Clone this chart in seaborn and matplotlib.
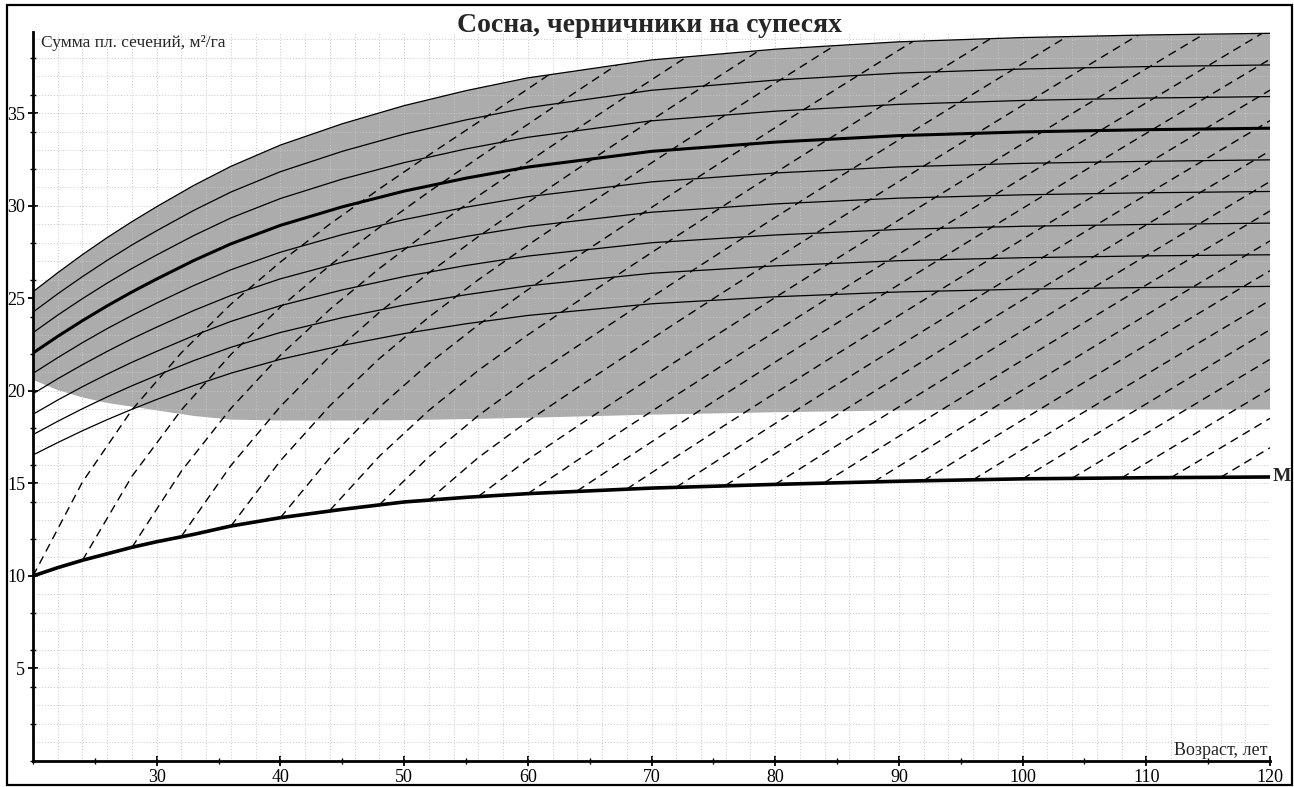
import numpy as np
import matplotlib
matplotlib.use("Agg")
import matplotlib.pyplot as plt
import seaborn as sns
from matplotlib.patches import Polygon, Rectangle
from matplotlib.ticker import FixedLocator, MultipleLocator

# ---------------- data ----------------
curve_age = [20, 22, 24, 26, 28, 30, 33, 36, 40, 45, 50, 55, 60, 70, 80, 90, 100, 110, 120]

# thick curve (full stocking)
ba_100 = [22.05, 22.95, 23.8, 24.6, 25.35, 26.05, 27.05, 27.95, 28.95, 29.95, 30.8, 31.5, 32.1, 32.95, 33.45, 33.8, 34.0, 34.12, 34.2]
# thin curves
ba_075 = [16.54, 17.21, 17.85, 18.45, 19.01, 19.54, 20.29, 20.96, 21.71, 22.46, 23.1, 23.63, 24.08, 24.71, 25.09, 25.35, 25.5, 25.59, 25.65]
ba_080 = [17.64, 18.36, 19.04, 19.68, 20.28, 20.84, 21.64, 22.36, 23.16, 23.96, 24.64, 25.2, 25.68, 26.36, 26.76, 27.04, 27.2, 27.3, 27.36]
ba_085 = [18.74, 19.51, 20.23, 20.91, 21.55, 22.14, 22.99, 23.76, 24.61, 25.46, 26.18, 26.78, 27.29, 28.01, 28.43, 28.73, 28.9, 29.0, 29.07]
ba_090 = [19.85, 20.66, 21.42, 22.14, 22.82, 23.45, 24.35, 25.16, 26.06, 26.96, 27.72, 28.35, 28.89, 29.66, 30.11, 30.42, 30.6, 30.71, 30.78]
ba_095 = [20.95, 21.8, 22.61, 23.37, 24.08, 24.75, 25.7, 26.55, 27.5, 28.45, 29.26, 29.93, 30.5, 31.3, 31.78, 32.11, 32.3, 32.41, 32.49]
ba_105 = [23.15, 24.1, 24.99, 25.83, 26.62, 27.35, 28.4, 29.35, 30.4, 31.45, 32.34, 33.08, 33.71, 34.6, 35.12, 35.49, 35.7, 35.83, 35.91]
ba_110 = [24.26, 25.25, 26.18, 27.06, 27.89, 28.66, 29.76, 30.75, 31.85, 32.95, 33.88, 34.65, 35.31, 36.25, 36.8, 37.18, 37.4, 37.53, 37.62]
# upper edge of the grey zone
ba_115 = [25.36, 26.39, 27.37, 28.29, 29.15, 29.96, 31.11, 32.14, 33.29, 34.44, 35.42, 36.23, 36.92, 37.89, 38.47, 38.87, 39.1, 39.24, 39.33]
# lower edge of the grey zone
band_bottom = [20.6, 20.05, 19.65, 19.35, 19.15, 18.95, 18.65, 18.45, 18.4, 18.4, 18.42, 18.48, 18.55, 18.72, 18.85, 18.95, 19.0, 19.0, 19.0]
# minimum curve "M"
m_curve = [10.0, 10.45, 10.85, 11.2, 11.55, 11.85, 12.25, 12.7, 13.15, 13.6, 14.0, 14.25, 14.45, 14.75, 14.95, 15.12, 15.25, 15.31, 15.35]

# dashed growth lines starting on M before age 60 (values every 4 years up to age 60)
early_age = [20, 24, 28, 32, 36, 40, 44, 48, 52, 56, 60]
dash_20 = [10.0, 15.08, 18.98, 22.07, 24.69, 26.97, 29.02, 30.92, 32.75, 34.53, 36.32]
dash_24 = [10.85, 15.39, 18.98, 21.97, 24.53, 26.79, 28.84, 30.76, 32.6, 34.41]
dash_28 = [11.55, 15.67, 19.06, 21.93, 24.41, 26.62, 28.64, 30.54, 32.37]
dash_32 = [12.15, 15.97, 19.16, 21.88, 24.25, 26.38, 28.34, 30.19]
dash_36 = [12.7, 16.23, 19.2, 21.75, 23.99, 26.01, 27.88]
dash_40 = [13.15, 16.39, 19.12, 21.48, 23.57, 25.47]
dash_44 = [13.55, 16.47, 18.95, 21.11, 23.03]
dash_48 = [13.85, 16.44, 18.67, 20.62]
dash_52 = [14.1, 16.4, 18.37]
dash_56 = [14.3, 16.29]

# after age 60 all dashed lines run parallel: common rise from age 60
late_age = [60, 64, 68, 72, 76, 80, 84, 88, 92, 96, 100, 104, 108, 112, 116, 120]
late_rise = [0, 1.8, 3.57, 5.32, 7.05, 8.76, 10.45, 12.12, 13.78, 15.43, 17.07, 18.7, 20.32, 21.93, 23.53, 25.13]
# dashed lines starting on M at age 60 and later
late_start_ba = [14.45, 14.6, 14.7, 14.8, 14.9, 14.95, 15.05, 15.1, 15.15, 15.2, 15.25, 15.28, 15.3, 15.32, 15.33]

x_ticks = [30, 40, 50, 60, 70, 80, 90, 100, 110, 120]
y_ticks = [5, 10, 15, 20, 25, 30, 35]

title = "Сосна, черничники на супесях"
y_label = "Сумма пл. сечений, м²/га"
x_label = "Возраст, лет"
m_label = "М"

# ---------------- drawing ----------------
sns.set_style("white")
plt.rcParams['font.family'] = ['Liberation Serif', 'DejaVu Serif']

W, H = 1294, 787
fig = plt.figure(figsize=(W / 100, H / 100), dpi=100)
ax = fig.add_axes([33 / W, 1 - 761 / H, (1270 - 33) / W, (761 - 32) / H])
ax.set_xlim(20, 120)
ax.set_ylim(0, 39.4)

age = np.array(curve_age)

# grey zone
ax.fill(np.concatenate([age, age[::-1]]),
        np.concatenate([ba_115, band_bottom[::-1]]),
        color='#acacac', lw=0, zorder=1)

# dotted grid
ax.vlines(np.arange(22, 120, 2), 0, 39.4, colors='#c6c6c6', lw=0.7, linestyles=(0, (1, 2)), zorder=1.5)
ax.hlines(np.arange(1, 39.4, 1), 20, 120, colors='#c6c6c6', lw=0.7, linestyles=(0, (1, 2)), zorder=1.5)

# clip region for dashed lines: between M and upper edge
clip_poly = Polygon(np.column_stack([np.concatenate([age, age[::-1]]),
                                     np.concatenate([ba_115, m_curve[::-1]])]),
                    closed=True, transform=ax.transData)

dash_style = dict(color='black', lw=1.0, linestyle=(0, (6, 4)), zorder=3)
late_age_a = np.array(late_age)
late_rise_a = np.array(late_rise)

# early lines: own values up to 60, then parallel course
for vals in [dash_20, dash_24, dash_28, dash_32, dash_36, dash_40, dash_44, dash_48, dash_52, dash_56]:
    n = len(vals)
    xs = np.array(early_age[-n:] + late_age[1:])
    ys = np.concatenate([vals, vals[-1] + late_rise_a[1:]])
    sns.lineplot(x=xs, y=ys, ax=ax, **dash_style)
    ax.lines[-1].set_clip_path(clip_poly)

# lines starting at 60 and later
for i, ba0 in enumerate(late_start_ba):
    xs = late_age_a[i:]
    ys = ba0 + late_rise_a[i:] - late_rise_a[i]
    sns.lineplot(x=xs, y=ys, ax=ax, **dash_style)
    ax.lines[-1].set_clip_path(clip_poly)

for curve in [ba_075, ba_080, ba_085, ba_090, ba_095, ba_105, ba_110, ba_115]:
    sns.lineplot(x=age, y=curve, ax=ax, color='black', lw=0.9, zorder=4)

sns.lineplot(x=age, y=ba_100, ax=ax, color='black', lw=2.2, zorder=5)
sns.lineplot(x=age, y=m_curve, ax=ax, color='black', lw=2.6, zorder=5)

# axes styling
for s in ['top', 'right']:
    ax.spines[s].set_visible(False)
for s in ['left', 'bottom']:
    ax.spines[s].set_linewidth(2.0)
    ax.spines[s].set_color('black')
    ax.spines[s].set_zorder(6)

ax.xaxis.set_major_locator(FixedLocator(x_ticks))
ax.xaxis.set_minor_locator(MultipleLocator(5))
ax.yaxis.set_major_locator(FixedLocator(y_ticks))
ax.yaxis.set_minor_locator(MultipleLocator(2))
ax.tick_params(axis='x', which='both', bottom=True, top=False)
ax.tick_params(axis='y', which='both', left=True, right=False)
ax.tick_params(which='major', direction='inout', length=7, width=1.3, labelsize=13, pad=2,
               color='black', labelcolor='black')
ax.tick_params(which='minor', direction='inout', length=5, width=1.0, color='black')
ax.set_xlabel("")
ax.set_ylabel("")

ax.text(0.0065, 0.985, y_label, transform=ax.transAxes, ha='left', va='center', fontsize=12.5)
ax.text(0.998, 0.014, x_label, transform=ax.transAxes, ha='right', va='center', fontsize=13)
ax.annotate(m_label, xy=(curve_age[-1], m_curve[-1]), xytext=(2, 0), textcoords='offset points',
            ha='left', va='center', fontsize=14, fontweight='bold', annotation_clip=False)

fig.text(649 / W, 1 - 25 / H, title, ha='center', va='center', fontsize=20, fontweight='bold')

fig.patches.append(Rectangle((7 / W, 2 / H), (1292 - 7) / W, (782 - 2) / H, transform=fig.transFigure,
                             fill=False, lw=1.6, ec='black'))

fig.savefig("out.png", dpi=100)
